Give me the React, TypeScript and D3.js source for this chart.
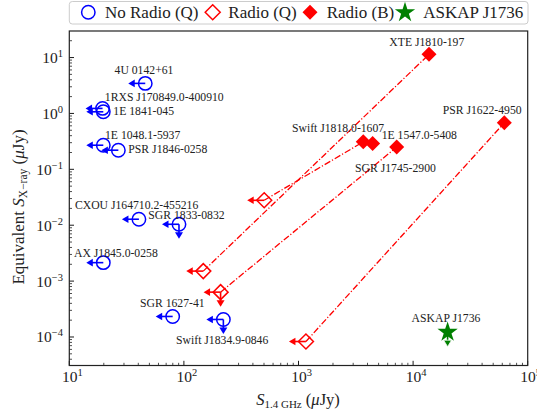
import React from "react";
import * as d3 from "d3";

// ---------- data ----------
const noRadioNames = [
  "4U 0142+61",
  "1RXS J170849.0-400910",
  "1E 1841-045",
  "1E 1048.1-5937",
  "PSR J1846-0258",
  "CXOU J164710.2-455216",
  "SGR 1833-0832",
  "AX J1845.0-0258",
  "SGR 1627-41",
  "Swift J1834.9-0846",
];
const noRadioFlux = [46, 19.5, 19.8, 19.8, 26.8, 40.5, 90.6, 19.8, 79.8, 221];
const noRadioXray = [3.45, 1.23, 1.07, 0.27, 0.22, 0.0128, 0.0104, 0.00214, 2.33e-4, 2.06e-4];
const noRadioXrayUL = [false, false, false, false, false, false, true, false, false, true];

const radioQFlux = [147.6, 502, 209, 1161];
const radioQXray = [1.51e-3, 0.0279, 6.35e-4, 8.3e-5];
const radioQXrayUL = [false, false, true, false];
const radioQPartner = ["XTE J1810-197", "Swift J1818.0-1607", "SGR J1745-2900", "PSR J1622-4950"];

const radioBNames = ["XTE J1810-197", "Swift J1818.0-1607", "1E 1547.0-5408", "SGR J1745-2900", "PSR J1622-4950"];
const radioBFlux = [13770, 3673, 4436, 7194, 62500];
const radioBXray = [11.4, 0.31, 0.29, 0.25, 0.68];

const askapName = "ASKAP J1736";
const askapFlux = [20000];
const askapXray = [1.22e-4];

const xTickExps = [1, 2, 3, 4, 5];
const yTickExps = [1, 0, -1, -2, -3, -4];
const legendLabels = ["No Radio (Q)", "Radio (Q)", "Radio (B)", "ASKAP J1736"];

// ---------- layout (label offsets in px) ----------
const noRadioLabelOffset: [number, number][] = [
  [-30.7, -9.3], [2.3, -7.3], [10, 2.8], [1.7, -6], [10, 3],
  [-64, -10], [-30.7, -5], [-29.3, -5.6], [-32.7, -9.3], [-47.3, 25],
];
const radioBLabelOffset: [number, number][] = [
  [-39.7, -8.6], [-71.3, -9.7], [9, -4.6], [-41.7, 25], [-61.6, -8.7],
];
const askapLabelOffset: [number, number] = [-36, -10];

const FONT = "'Liberation Serif', 'Times New Roman', serif";
const BLUE = "#0000ff";
const RED = "#ff0000";
const GREEN = "#008000";

const L = 69.3, R = 527.7, T = 31, B = 365.5;

function LeftArrow({ x, y, color }: { x: number; y: number; color: string }) {
  const tip = x - 17;
  return (
    <g>
      <line x1={x} y1={y} x2={tip + 4} y2={y} stroke={color} strokeWidth={1.6} />
      <path d={`M${tip},${y} L${tip + 6.5},${y - 3.8} L${tip + 6.5},${y + 3.8} Z`} fill={color} />
    </g>
  );
}
function DownArrow({ x, y, color, stroke }: { x: number; y: number; color: string; stroke?: string }) {
  const tip = y + 14.5;
  return (
    <g>
      <line x1={x} y1={y} x2={x} y2={tip - 4} stroke={color} strokeWidth={1.6} />
      <path
        d={`M${x},${tip} L${x - 4},${tip - 6.5} L${x + 4},${tip - 6.5} Z`}
        fill={color}
        stroke={stroke || "none"}
        strokeWidth={stroke ? 0.8 : 0}
      />
    </g>
  );
}

const diamondPath = (() => {
  const h = 7.5;
  return `M0,${-h} L${h},0 L0,${h} L${-h},0 Z`;
})();
const starPath = d3.symbol(d3.symbolStar, 128)()!;

function TickLabel({ exp }: { exp: number }) {
  const s = exp < 0 ? `\u2212${-exp}` : `${exp}`;
  return (
    <>
      10<tspan dy={-6} fontSize={10.5}>{s}</tspan>
    </>
  );
}

export default function App() {
  const x = d3.scaleLog().domain([10, 1e5]).range([L, R]);
  const y = d3
    .scaleLog()
    .domain([Math.pow(10, -4.51), Math.pow(10, 1.475)])
    .range([B, T]);

  const [ymin, ymax] = y.domain();
  const xMinor: number[] = [];
  for (let e = 1; e < 5; e++) for (let m = 2; m < 10; m++) xMinor.push(m * Math.pow(10, e));
  const yMinor: number[] = [];
  for (let e = -5; e < 2; e++)
    for (let m = 2; m < 10; m++) {
      const v = m * Math.pow(10, e);
      if (v >= ymin && v <= ymax) yMinor.push(v);
    }

  const bIndex = (name: string) => radioBNames.indexOf(name);

  return (
    <svg
      width={537}
      height={411}
      style={{ position: "absolute", left: 0, top: 0, background: "#fff" }}
      fontFamily={FONT}
    >
      <rect x={0} y={0} width={537} height={411} fill="#fff" />

      {/* connection lines */}
      {radioQFlux.map((f, i) => {
        const j = bIndex(radioQPartner[i]);
        return (
          <line
            key={"c" + i}
            x1={x(f)}
            y1={y(radioQXray[i])}
            x2={x(radioBFlux[j])}
            y2={y(radioBXray[j])}
            stroke={RED}
            strokeWidth={1.3}
            strokeDasharray="6.5,2,1.2,2"
          />
        );
      })}

      {/* no radio: circles with arrows */}
      {noRadioFlux.map((f, i) => {
        const cx = x(f), cy = y(noRadioXray[i]);
        return (
          <g key={"n" + i}>
            <LeftArrow x={cx} y={cy} color={BLUE} />
            {noRadioXrayUL[i] && <DownArrow x={cx} y={cy} color={BLUE} />}
            <circle cx={cx} cy={cy} r={6.7} fill="none" stroke={BLUE} strokeWidth={1.5} />
            <text
              x={cx + noRadioLabelOffset[i][0]}
              y={cy + noRadioLabelOffset[i][1]}
              fontSize={11.7}
              fill="#222"
            >
              {noRadioNames[i]}
            </text>
          </g>
        );
      })}

      {/* radio Q: open diamonds */}
      {radioQFlux.map((f, i) => {
        const cx = x(f), cy = y(radioQXray[i]);
        return (
          <g key={"q" + i}>
            <LeftArrow x={cx} y={cy} color={RED} />
            {radioQXrayUL[i] && <DownArrow x={cx} y={cy} color={RED} />}
            <path d={diamondPath} transform={`translate(${cx},${cy})`} fill="none" stroke={RED} strokeWidth={1.5} />
          </g>
        );
      })}

      {/* radio B: filled diamonds */}
      {radioBFlux.map((f, i) => {
        const cx = x(f), cy = y(radioBXray[i]);
        return (
          <g key={"b" + i}>
            <path d={diamondPath} transform={`translate(${cx},${cy})`} fill={RED} />
            <text
              x={cx + radioBLabelOffset[i][0]}
              y={cy + radioBLabelOffset[i][1]}
              fontSize={11.7}
              fill="#222"
            >
              {radioBNames[i]}
            </text>
          </g>
        );
      })}

      {/* ASKAP */}
      {askapFlux.map((f, i) => {
        const cx = x(f), cy = y(askapXray[i]);
        return (
          <g key={"a" + i}>
            <path d={starPath} transform={`translate(${cx},${cy})`} fill={GREEN} />
            <DownArrow x={cx} y={cy} color={GREEN} stroke="#fff" />
            <text x={cx + askapLabelOffset[0]} y={cy + askapLabelOffset[1]} fontSize={11.7} fill="#222">
              {askapName}
            </text>
          </g>
        );
      })}

      {/* ticks */}
      {xTickExps.map((e) => (
        <line key={"xt" + e} x1={x(Math.pow(10, e))} x2={x(Math.pow(10, e))} y1={B} y2={B - 4.7} stroke="#000" strokeWidth={0.9} />
      ))}
      {xMinor.map((v, i) => (
        <line key={"xm" + i} x1={x(v)} x2={x(v)} y1={B} y2={B - 2.7} stroke="#000" strokeWidth={0.7} />
      ))}
      {yTickExps.map((e) => (
        <line key={"yt" + e} x1={L} x2={L + 4.7} y1={y(Math.pow(10, e))} y2={y(Math.pow(10, e))} stroke="#000" strokeWidth={0.9} />
      ))}
      {yMinor.map((v, i) => (
        <line key={"ym" + i} x1={L} x2={L + 2.7} y1={y(v)} y2={y(v)} stroke="#000" strokeWidth={0.7} />
      ))}

      {/* frame */}
      <rect x={L} y={T} width={R - L} height={B - T} fill="none" stroke="#222" strokeWidth={1.2} />

      {/* tick labels */}
      {xTickExps.map((e) => (
        <text key={"xl" + e} x={x(Math.pow(10, e)) + 3} y={381.5} fontSize={15.5} textAnchor="middle" fill="#222">
          <TickLabel exp={e} />
        </text>
      ))}
      {yTickExps.map((e) => (
        <text key={"yl" + e} x={63} y={y(Math.pow(10, e)) + 5.5} fontSize={15.5} textAnchor="end" fill="#222">
          <TickLabel exp={e} />
        </text>
      ))}

      {/* axis labels */}
      <text x={298} y={405} fontSize={16.5} textAnchor="middle" fill="#222">
        <tspan fontStyle="italic">S</tspan>
        <tspan fontSize={11} dy={3}>1.4 GHz</tspan>
        <tspan dy={-3}> (</tspan>
        <tspan fontStyle="italic">μ</tspan>
        <tspan>Jy)</tspan>
      </text>
      <text transform="translate(24,207) rotate(-90)" fontSize={17} textAnchor="middle" fill="#222">
        Equivalent <tspan fontStyle="italic">S</tspan>
        <tspan fontSize={11.5} dy={3}>X−ray</tspan>
        <tspan dy={-3}> (</tspan>
        <tspan fontStyle="italic">μ</tspan>
        <tspan>Jy)</tspan>
      </text>

      {/* legend */}
      <g>
        <rect x={69.3} y={1.5} width={458.7} height={22.5} rx={3} fill="#fff" stroke="#ccc" strokeWidth={1} />
        <circle cx={88.3} cy={12.3} r={6.7} fill="none" stroke={BLUE} strokeWidth={1.5} />
        <text x={105} y={17.5} fontSize={17} fill="#222">{legendLabels[0]}</text>
        <path d={diamondPath} transform="translate(212.7,12.3)" fill="none" stroke={RED} strokeWidth={1.5} />
        <text x={228.3} y={17.5} fontSize={17} fill="#222">{legendLabels[1]}</text>
        <path d={diamondPath} transform="translate(310,12.3)" fill={RED} />
        <text x={326.7} y={17.5} fontSize={17} fill="#222">{legendLabels[2]}</text>
        <path d={starPath} transform="translate(405,12.5)" fill={GREEN} />
        <text x={423.3} y={17.5} fontSize={17} fill="#222">{legendLabels[3]}</text>
      </g>
    </svg>
  );
}
